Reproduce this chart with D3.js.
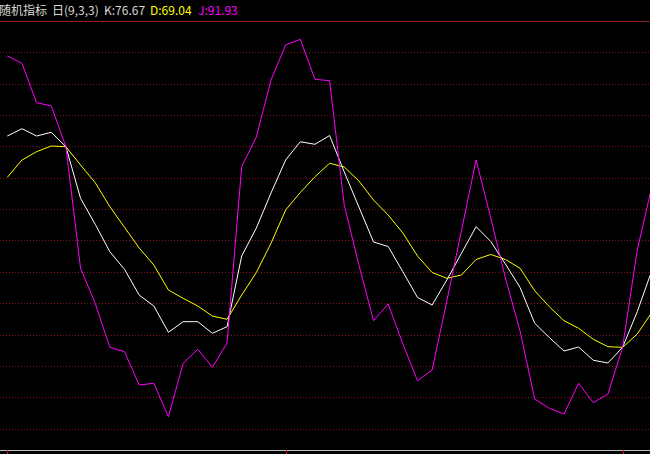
<!DOCTYPE html>
<html><head><meta charset="utf-8">
<script src="https://cdn.jsdelivr.net/npm/d3@7/dist/d3.min.js"></script>
<style>html,body{margin:0;padding:0;background:#000;overflow:hidden}</style>
</head><body><svg id="c" width="650" height="454"></svg>
<script>
// KDJ values, one per trading day (index 0..44)
const kValues = [101.09,102.42,101.09,101.76,99.15,89.76,85.04,80.05,76.85,72.18,70.18,65.40,67.33,67.33,65.22,66.42,79.27,84.36,90.73,96.73,100.05,99.58,101.18,94.55,88.18,81.82,81.00,76.42,71.73,70.36,74.91,79.76,84.60,81.91,77.82,73.55,67.04,64.45,62.00,62.73,60.31,59.82,62.67,69.15,76.67];
const dValues = [93.58,96.73,98.24,99.27,99.15,95.82,92.60,88.24,84.49,80.73,77.64,73.09,71.58,70.18,68.36,67.76,72.18,76.27,81.58,87.64,90.82,93.69,96.13,95.45,92.91,89.45,86.73,83.45,79.27,76.27,75.22,75.82,78.64,79.55,78.64,77.04,72.96,70.05,67.51,66.13,64.13,62.78,62.67,65.09,69.04];
const jValues = [115.64,114.31,107.15,106.55,99.15,77.04,70.67,62.67,61.87,55.82,56.13,50.05,59.76,62.31,59.04,63.45,95.51,100.91,111.27,117.64,118.67,111.40,111.15,88.55,77.64,67.51,70.55,63.27,56.60,58.55,71.09,83.87,96.73,86.18,75.27,65.64,53.27,51.58,50.55,56.13,52.60,54.18,62.67,80.36,91.93];
// indices where a new period (month) begins
const periodStarts = [0, 19, 42];
// header texts
const titleParts = ["随机指标", "日(9,3,3)", "K:76.67", "D:69.04", "J:91.93"];
const gridCount = 13;

const W = 650, H = 454;
const plotTop = 21, plotBottom = 450;
const svg = d3.select("#c");
svg.append("rect").attr("width", W).attr("height", H).attr("fill", "#000");

const idx = d3.range(kValues.length);
const x = d3.scaleLinear().domain([0, kValues.length - 1]).range([7.3, 651.9]);
const y = d3.scaleLinear().domain([44, 122]).range([plotBottom, plotTop]);
const gy = d3.scaleLinear().domain([0, 14]).range([plotTop, plotTop + 14 * 31.35]);

// grid
svg.append("g").selectAll("line").data(d3.range(1, gridCount + 1)).join("line")
  .attr("x1", 0).attr("x2", W)
  .attr("y1", d => Math.round(gy(d)) + 0.5).attr("y2", d => Math.round(gy(d)) + 0.5)
  .attr("stroke", "#8a1010").attr("stroke-width", 1).attr("stroke-dasharray", "1,2");

// frame lines
svg.append("line").attr("x1", 0).attr("x2", W).attr("y1", plotTop + 0.5).attr("y2", plotTop + 0.5)
  .attr("stroke", "#8c1c1c").attr("stroke-width", 1);
svg.append("line").attr("x1", 0).attr("x2", W).attr("y1", plotBottom + 0.5).attr("y2", plotBottom + 0.5)
  .attr("stroke", "#c0c0c0").attr("stroke-width", 1);
svg.append("g").selectAll("line").data(periodStarts).join("line")
  .attr("x1", d => Math.round(x(d)) + 0.5).attr("x2", d => Math.round(x(d)) + 0.5)
  .attr("y1", plotBottom).attr("y2", H)
  .attr("stroke", "#d01010").attr("stroke-width", 1);

// clip
svg.append("clipPath").attr("id", "plot").append("rect")
  .attr("x", 0).attr("y", plotTop + 1).attr("width", W).attr("height", plotBottom - plotTop - 1);

const line = vals => d3.line().x(i => x(i)).y(i => y(vals[i]))(idx);
const g = svg.append("g").attr("clip-path", "url(#plot)");
[[dValues, "#ffff00"], [kValues, "#ffffff"], [jValues, "#ff00ff"]].forEach(([vals, col]) => {
  g.append("path").attr("d", line(vals)).attr("fill", "none")
    .attr("stroke", col).attr("stroke-width", 1).attr("stroke-linejoin", "round");
});

// title
const tx = [-1, 52, 104, 150, 198];
const tc = ["#d8d8d8", "#d8d8d8", "#d8d8d8", "#ffff00", "#ff00ff"];
svg.append("g").selectAll("text").data(titleParts).join("text")
  .attr("x", (d, i) => tx[i]).attr("y", 15)
  .attr("fill", (d, i) => tc[i])
  .attr("font-family", "'Noto Sans CJK SC', 'Liberation Sans', sans-serif")
  .attr("font-size", 12)
  .text(d => d);
</script></body></html>
